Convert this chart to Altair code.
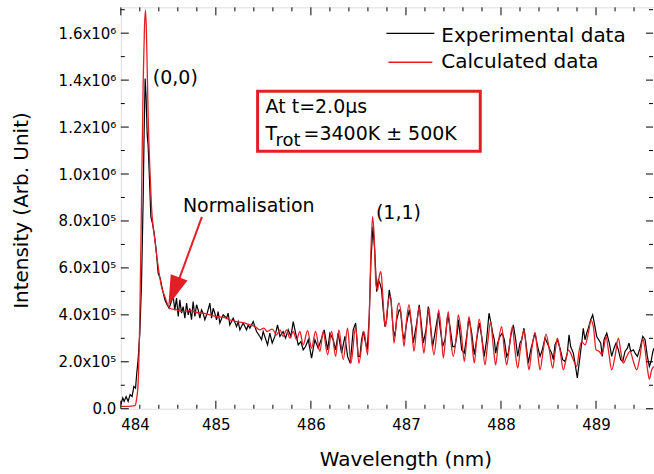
import altair as alt
import pandas as pd

# ---------------- data (intensity in units of 1e5) ----------------
black_wl = [
    484.000, 484.021, 484.035, 484.056, 484.077, 484.098, 484.119, 484.137, 484.155, 484.168,
    484.182, 484.200, 484.218, 484.235, 484.245, 484.256, 484.266, 484.277, 484.288, 484.302,
    484.316, 484.333, 484.351, 484.372, 484.393, 484.414, 484.435, 484.463, 484.487, 484.508, 484.526,
    484.551, 484.568, 484.586, 484.604, 484.621, 484.639, 484.656, 484.674, 484.692, 484.709,
    484.726, 484.744, 484.761, 484.779, 484.797, 484.814, 484.832, 484.849, 484.866, 484.884,
    484.909, 484.937, 484.955, 484.972, 484.989, 485.007, 485.024, 485.042, 485.077, 485.113,
    485.129, 485.147, 485.182, 485.218, 485.235, 485.253, 485.287, 485.323, 485.340, 485.358,
    485.393, 485.428, 485.463, 485.481, 485.498,
    485.544, 485.568, 485.593, 485.621, 485.649, 485.674, 485.708, 485.733, 485.761, 485.789,
    485.814, 485.839, 485.867, 485.895, 485.919, 485.944, 485.972, 486.007, 486.042, 486.077,
    486.113, 486.140, 486.176, 486.200, 486.235, 486.260, 486.287, 486.323, 486.358, 486.386,
    486.414, 486.445, 486.471, 486.498,
    486.516, 486.533, 486.551, 486.568, 486.593, 486.614, 486.632, 486.653, 486.671, 486.692,
    486.709, 486.726, 486.744, 486.761, 486.779, 486.797, 486.824, 486.842, 486.866, 486.884,
    486.902, 486.929, 486.944, 486.965, 486.982, 487.007, 487.035, 487.060, 487.077, 487.113,
    487.140, 487.165, 487.182, 487.211, 487.235, 487.263, 487.281, 487.305, 487.340, 487.358,
    487.386, 487.411, 487.439, 487.463, 487.492, 487.516, 487.540,
    487.551, 487.568, 487.586, 487.614, 487.639, 487.663, 487.692, 487.719, 487.744, 487.772,
    487.797, 487.824, 487.849, 487.874, 487.895, 487.913, 487.930, 487.944, 487.965, 487.989,
    488.014, 488.035, 488.060, 488.077, 488.105, 488.130, 488.155, 488.176, 488.200, 488.218,
    488.242, 488.263, 488.287, 488.313, 488.340, 488.358, 488.386, 488.411, 488.435, 488.463,
    488.487, 488.516, 488.533, 488.551,
    488.568, 488.593, 488.621, 488.649, 488.674, 488.698, 488.716, 488.733, 488.761, 488.779,
    488.803, 488.832, 488.853, 488.866, 488.884, 488.902, 488.919, 488.944, 488.965, 488.982,
    489.007, 489.028, 489.049, 489.066, 489.084, 489.113, 489.140, 489.165, 489.189, 489.211,
    489.235, 489.260, 489.281, 489.305, 489.330, 489.347, 489.365, 489.393, 489.411, 489.435,
    489.463, 489.492, 489.516, 489.540, 489.561, 489.579, 489.598, 489.610,
]
black_int = [
    0.17, 0.46, 0.31, 0.52, 0.31, 0.60, 0.52, 0.95, 0.88, 1.52,
    2.09, 3.22, 5.35, 8.89, 11.73, 14.07, 13.29, 11.73, 11.16, 9.74,
    8.18, 7.90, 7.48, 6.77, 5.77, 5.56, 5.14, 4.64, 4.43, 4.28, 4.50,
    4.78, 4.21, 4.71, 3.93, 4.64, 4.07, 4.35, 3.86, 4.50, 4.00,
    4.28, 3.79, 4.57, 3.93, 4.43, 4.21, 3.86, 4.21, 4.07, 3.79,
    4.07, 4.50, 3.86, 4.28, 4.07, 3.79, 4.14, 3.65, 4.00, 3.86,
    4.07, 3.57, 3.86, 3.50, 3.71, 3.36, 3.65, 3.36, 3.57, 3.43,
    3.71, 3.29, 3.08, 2.94, 3.29,
    2.72, 3.22, 2.80, 3.08, 3.57, 3.08, 3.29, 3.01, 3.36, 3.08,
    3.71, 3.22, 2.72, 2.86, 2.51, 2.65, 2.94, 2.16, 2.94, 2.58,
    3.01, 3.36, 2.51, 3.22, 2.94, 2.51, 3.22, 2.37, 3.08, 2.23,
    1.94, 3.36, 3.65, 2.23,
    2.23, 2.94, 3.29, 2.94, 2.51, 3.93, 6.34, 7.76, 6.77, 4.99,
    5.49, 5.35, 5.06, 4.21, 3.50, 3.79, 5.06, 4.64, 3.36, 3.08,
    3.79, 4.21, 4.14, 3.22, 2.94, 3.65, 4.21, 3.57, 2.80, 3.65,
    4.43, 3.50, 2.80, 3.36, 4.35, 3.36, 2.65, 3.22, 4.07, 3.50,
    2.65, 2.94, 4.00, 3.50, 2.65, 2.65, 3.22,
    3.79, 3.22, 2.51, 2.37, 3.08, 3.86, 3.22, 2.30, 2.94, 3.65,
    3.08, 2.23, 2.94, 4.07, 3.65, 3.22, 2.94, 2.37, 2.80, 3.08,
    3.22, 2.94, 2.23, 2.37, 3.15, 3.57, 2.94, 2.23, 2.80, 2.94,
    3.43, 2.80, 1.94, 2.51, 2.94, 3.22, 2.65, 2.23, 2.51, 3.01,
    2.80, 2.51, 2.37, 2.09,
    2.72, 2.94, 2.58, 2.09, 2.01, 2.37, 3.15, 2.65, 2.37, 1.94,
    1.31, 2.23, 2.94, 3.43, 2.94, 3.22, 3.43, 3.79, 4.00, 3.65,
    3.08, 2.94, 2.80, 2.23, 2.94, 3.22, 2.80, 2.23, 2.58, 2.80,
    2.51, 2.09, 2.01, 2.44, 2.58, 2.80, 2.44, 2.51, 2.37, 2.23,
    2.58, 3.08, 2.94, 2.23, 1.80, 2.01, 2.44, 2.58,
]

red_wl = [
    484.000, 484.077, 484.147, 484.165, 484.182, 484.200, 484.218, 484.235, 484.249, 484.260,
    484.270, 484.277, 484.288, 484.305, 484.323, 484.358, 484.393, 484.428, 484.463,
    484.516, 484.586, 484.656, 484.726, 484.797, 484.866, 484.937, 485.007, 485.077, 485.147,
    485.218, 485.287, 485.358, 485.411, 485.463, 485.505, 485.540,
    485.593, 485.639, 485.674, 485.708, 485.744, 485.779, 485.814, 485.849, 485.884, 485.919,
    485.965, 486.007, 486.049, 486.095, 486.129, 486.176, 486.218, 486.260, 486.295, 486.340,
    486.386, 486.421, 486.471, 486.505,
    486.558, 486.597, 486.614, 486.632, 486.649, 486.666, 486.684, 486.702, 486.719, 486.737,
    486.755, 486.772, 486.786, 486.803, 486.821, 486.839, 486.856, 486.874, 486.895, 486.912,
    486.929, 486.955, 486.979, 487.007, 487.032, 487.060, 487.084, 487.113, 487.137, 487.165,
    487.189, 487.218, 487.242, 487.270, 487.295, 487.323, 487.344, 487.372, 487.393, 487.421,
    487.445, 487.471, 487.498, 487.533,
    487.551, 487.586, 487.614, 487.639, 487.663, 487.692, 487.719, 487.744, 487.772, 487.803,
    487.832, 487.860, 487.891, 487.919, 487.944, 487.972, 488.007, 488.035, 488.060, 488.084,
    488.119, 488.147, 488.176, 488.203, 488.242, 488.270, 488.295, 488.323, 488.358, 488.386,
    488.411, 488.445, 488.474, 488.509,
    488.544, 488.568, 488.593, 488.621, 488.656, 488.684, 488.709, 488.733, 488.761, 488.797,
    488.824, 488.849, 488.884, 488.919, 488.947, 488.972, 489.000, 489.035, 489.060, 489.084,
    489.105, 489.130, 489.165, 489.200, 489.235, 489.263, 489.287, 489.323, 489.358, 489.393,
    489.428, 489.463, 489.492, 489.516, 489.540, 489.561, 489.586, 489.610,
]
red_int = [
    0.10, 0.10, 0.13, 0.38, 1.09, 3.93, 8.89, 13.86, 16.27, 16.98,
    15.99, 14.57, 12.44, 10.31, 8.61, 7.19, 6.06, 5.20, 4.78,
    4.28, 4.21, 4.14, 4.18, 4.10, 4.07, 4.00, 3.93, 3.90, 3.79,
    3.71, 3.67, 3.57, 3.50, 3.36, 3.43, 3.29,
    3.39, 3.15, 3.36, 3.08, 3.36, 3.01, 3.29, 2.94, 3.29, 2.72,
    3.33, 2.58, 3.29, 2.44, 3.29, 2.30, 3.29, 2.23, 3.36, 2.09,
    3.43, 1.94, 3.50, 1.94,
    3.29, 2.30, 3.93, 6.77, 8.18, 7.33, 5.35, 5.06, 5.63, 5.84,
    4.92, 3.79, 3.50, 4.21, 4.71, 4.78, 3.93, 2.80, 3.50, 4.35,
    4.50, 3.79, 2.65, 3.79, 4.43, 3.50, 2.44, 3.50, 4.35, 3.22,
    2.37, 3.50, 4.28, 2.94, 2.30, 3.22, 4.21, 3.22, 2.16, 3.22,
    4.14, 2.94, 2.23, 3.22,
    4.00, 3.08, 2.01, 2.94, 3.93, 2.94, 1.94, 2.94, 3.82, 2.80,
    1.87, 2.80, 3.71, 2.65, 1.87, 2.80, 3.50, 2.51, 1.87, 2.51,
    3.50, 2.51, 1.73, 2.51, 3.36, 2.37, 1.66, 2.51, 3.25, 2.37,
    1.66, 2.51, 3.18, 2.51,
    1.73, 2.37, 3.01, 2.51, 1.66, 2.09, 2.51, 2.37, 2.09, 1.80,
    2.51, 2.86, 2.72, 3.22, 3.76, 3.50, 2.51, 2.44, 2.30, 2.65,
    3.08, 2.51, 1.66, 2.23, 3.01, 2.37, 1.94, 2.23, 2.44, 2.01,
    1.66, 2.23, 2.97, 2.51, 1.73, 1.26, 1.66, 1.80,
]

x_major = [484, 485, 486, 487, 488, 489]
x_minor = [484.2, 484.4, 484.6, 484.8, 485.2, 485.4, 485.6, 485.8, 486.2, 486.4, 486.6, 486.8,
           487.2, 487.4, 487.6, 487.8, 488.2, 488.4, 488.6, 488.8, 489.2, 489.4]
y_major = [0, 200000, 400000, 600000, 800000, 1000000, 1200000, 1400000, 1600000]
y_minor = [100000, 300000, 500000, 700000, 900000, 1100000, 1300000, 1500000, 1700000]

ann_wl = [484.337, 486.684, 484.653]
ann_int = [1.408e6, 8.34e5, 8.64e5]
ann_text = ["(0,0)", "(1,1)", "Normalisation"]

assert len(black_wl) == len(black_int)
assert len(red_wl) == len(red_int)

FONT = "DejaVu Sans"
RED = "#e41e26"
W, H = 534, 402
TW = 533  # visible right edge for inward ticks

df_black = pd.DataFrame({"wl": black_wl, "intensity": [v * 1e5 for v in black_int]})
df_red = pd.DataFrame({"wl": red_wl, "intensity": [v * 1e5 for v in red_int]})

xs = alt.Scale(domain=[484, 489.61], nice=False, zero=False)
ys = alt.Scale(domain=[0, 1.71e6], nice=False, zero=False)

xaxis = alt.Axis(values=x_major, format="d", title="Wavelength (nm)", grid=False, ticks=False,
                 domain=False, labelFont=FONT, labelFontSize=15, labelColor="black", labelPadding=9,
                 titleFont=FONT, titleFontSize=20, titleFontWeight="normal", titleColor="black",
                 titleX=285, titleY=57, titleBaseline="alphabetic", titleAlign="center")
ylab = ("datum.value == 0 ? '0.0' : (datum.value < 1000000 ? format(datum.value/100000, '.1f') + 'x10\u2075'"
        " : format(datum.value/1000000, '.1f') + 'x10\u2076')")
yaxis = alt.Axis(values=y_major, labelExpr=ylab, title="Intensity (Arb. Unit)", grid=False, ticks=False,
                 domain=False, labelFont=FONT, labelFontSize=15, labelColor="black", labelPadding=5,
                 titleFont=FONT, titleFontSize=20, titleFontWeight="normal", titleColor="black",
                 titleX=-99, titleY=203, titleBaseline="middle", titleAlign="center", titleAngle=270)

X = lambda: alt.X("wl:Q", scale=xs, axis=xaxis)
Y = lambda: alt.Y("intensity:Q", scale=ys, axis=yaxis)

black = alt.Chart(df_black).mark_line(color="black", strokeWidth=1.2, clip=True).encode(x=X(), y=Y())
red = alt.Chart(df_red).mark_line(color=RED, strokeWidth=1.3, clip=True, interpolate="monotone").encode(
    x=X(), y=Y())

def xt(vals, y0, y1):
    return alt.Chart(pd.DataFrame({"wl": vals})).mark_rule(color="black", strokeWidth=1).encode(
        x=X(), y=alt.value(y0), y2=alt.value(y1))

def yt(vals, x0, x1):
    return alt.Chart(pd.DataFrame({"intensity": vals})).mark_rule(color="black", strokeWidth=1).encode(
        y=Y(), x=alt.value(x0), x2=alt.value(x1))

ticks = [
    xt(x_major, H, H - 8), xt(x_minor, H, H - 4), xt(x_major, 0, 8), xt(x_minor, 0, 4),
    yt(y_major, 0, 8), yt(y_minor, 0, 4), yt(y_major, TW, TW - 7), yt(y_minor, TW, TW - 4),
]

ann = pd.DataFrame({"wl": ann_wl, "intensity": ann_int, "label": ann_text})
ann_layer = alt.Chart(ann).mark_text(align="left", baseline="middle", font=FONT, fontSize=19,
                                     color="black").encode(x=X(), y=Y(), text="label:N")

arrow_line = alt.Chart(pd.DataFrame({"wl": [484.853, 484.599], "intensity": [8.17e5, 5.36e5]})).mark_line(
    color=RED, strokeWidth=2).encode(x=X(), y=Y())
arrow_head = alt.Chart(pd.DataFrame({"wl": [484.557], "intensity": [5.0e5]})).mark_point(
    shape="M0,-1L0.6,1L-0.6,1Z", filled=True, color=RED, opacity=1, size=900, angle=201).encode(x=X(), y=Y())

one = alt.Data(values=[{}])

def txt(s, x, y, size=20, color="black"):
    return alt.Chart(one).mark_text(align="left", baseline="alphabetic", font=FONT, fontSize=size,
                                    color=color).encode(x=alt.value(x), y=alt.value(y), text=alt.value(s))

def hline(x0, x1, y, color):
    return alt.Chart(one).mark_rule(color=color, strokeWidth=1.3).encode(
        x=alt.value(x0), x2=alt.value(x1), y=alt.value(y))

legend = [
    hline(266, 314, 26, "black"), txt("Experimental data", 321, 35, 20),
    hline(268, 312, 55, RED), txt("Calculated data", 321, 61, 20),
]

box = alt.Chart(one).mark_rect(fillOpacity=0, stroke=RED, strokeWidth=3).encode(
    x=alt.value(137), x2=alt.value(360), y=alt.value(84), y2=alt.value(144))
box_text = [
    txt("At t=2.0\u00b5s", 145, 106, 19),
    txt("T", 145, 133, 19),
    txt("rot", 155, 139, 18),
    txt("=3400K \u00b1 500K", 183, 133, 19),
]

chart = alt.layer(black, red, *ticks, ann_layer, arrow_line, arrow_head, *legend, box, *box_text).properties(
    width=W, height=H, autosize="none",
    padding={"left": 121, "top": 7, "right": 0, "bottom": 65},
).configure_view(stroke="black", strokeWidth=1.3).configure(background="white")

chart.save("out.html", embed_options={"renderer": "svg", "actions": False})
